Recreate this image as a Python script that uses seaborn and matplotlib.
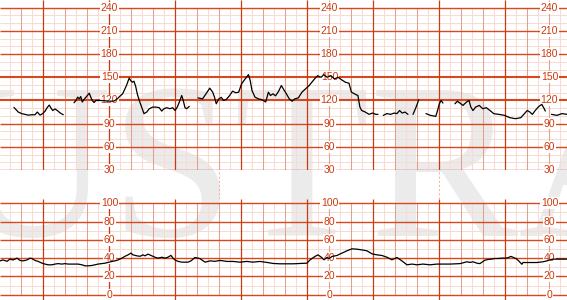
import numpy as np
import pandas as pd
import matplotlib
matplotlib.use("Agg")
import matplotlib.pyplot as plt
import seaborn as sns

# ---------------- data (time in s, light grid cell = 10 s) ----------------
fhr_seg1_t = [13.2, 17.1, 20.2, 23.2, 26.2, 29.3, 32.3, 34.4, 36.9, 39.3, 41.4, 43.5, 45.3, 46.9, 48.4, 50.5, 52.6, 55.0, 58.0]
fhr_seg1_v = [111, 105, 103, 102, 101, 101.5, 101.5, 105, 101, 103, 106, 111, 114, 110, 107, 109, 107, 104, 101.5]

fhr_seg2_t = [67.8, 69.6, 71.1, 72.6, 73.9, 75.3, 76.9, 78.7, 80.2, 81.7, 83.0, 84.4, 86.0, 87.8, 91.4, 96.0, 100.5,
              103.5, 105.0, 107.1, 109.6, 112.0, 114.1, 115.7, 117.1, 118.0, 119.3, 120.8, 122.3, 123.9, 125.3, 127.1,
              129.3, 131.4, 133.9, 136.2, 139.3, 142.3, 145.3, 147.5, 149.6, 152.0, 155.0, 157.5, 159.6, 161.7, 164.1,
              165.7, 167.1, 168.7, 170.2, 172.6]
fhr_seg2_v = [117, 120, 124.3, 122.1, 125.1, 117.9, 121.3, 124.3, 126.9, 129.4, 124.3, 120, 117.4, 120, 120, 119.6, 119.1,
              119.1, 120, 122.1, 125.6, 128.6, 135, 140.1, 145.7, 149, 145.7, 143.6, 144.9, 138, 128.6, 120,
              111.4, 102.9, 105, 109.3, 111.4, 111.4, 110.6, 106.3, 109.3, 110.6, 109.3, 110.6, 107.1, 111.4, 120,
              126.4, 120, 110.6, 109.3, 112.3]

fhr_seg3_t = [180.5, 184.6, 187.8, 191.2, 193.9, 195.5, 197.1, 199.4, 201.7, 203.7, 206.0, 209.3, 211.9, 214.9, 217.5,
              220.1, 223.4, 226.4, 228.0, 229.6, 232.3, 235.6, 238.7, 242.1, 244.5, 246.4, 248.7, 251.0, 253.7, 256.3,
              258.6, 260.9, 263.5, 266.1, 268.5, 271.8, 275.0, 278.3, 281.6, 284.0, 286.5, 289.1, 292.5, 294.8, 298.0,
              301.4, 304.6, 307.9, 311.2, 314.5, 317.8, 320.0, 322.7, 325.9, 327.7, 329.3, 332.6, 336.0, 339.1, 342.3,
              344.1]
fhr_seg3_v = [123.4, 122, 128.6, 135.9, 130.7, 124.3, 115.7, 122, 124, 120, 121, 126.4, 132, 130, 130.7,
              141.4, 147.9, 153.4, 145.7, 132.9, 124.3, 122, 121, 118, 130.7, 126.4, 128.6, 126, 131.6, 139.3,
              133.7, 128.6, 122, 119, 122, 123.4, 130.7, 135, 139.3, 143.6, 147.9, 152, 150, 153.4, 150,
              152, 147.9, 150, 146.6, 143.6, 142.3, 130.7, 128.6, 126.4, 111.4, 107, 105, 102, 103.7, 102,
              102]

fhr_seg4_t = [349.0, 352.3, 355.6, 358.9, 361.4, 363.8, 366.1, 368.7, 371.4]
fhr_seg4_v = [100.7, 103, 102, 103.7, 103, 107, 103.7, 105, 102]

fhr_seg5_t = [376.0, 378.7, 381.2]
fhr_seg5_v = [102, 111, 121]

fhr_seg6_t = [387.8, 391.8, 396.7, 398.3, 399.9, 401.6, 403.2]
fhr_seg6_v = [103, 100.7, 99.4, 107, 115.7, 120, 116.6]

fhr_seg7_t = [414.1, 416.4, 418.7, 421.4, 424.6, 426.9, 428.6, 430.5, 432.9, 436.2, 439.4, 442.7, 446.0, 449.4,
              454.1, 459.2, 464.1, 469.1, 474.0, 477.3, 479.9, 482.2, 484.5, 487.1, 490.4, 493.1, 495.3, 496.3]
fhr_seg7_v = [115.7, 119, 116.6, 113.6, 117.9, 120, 111.4, 107, 111.4, 113.6, 109.3, 110.6, 107, 102.9,
              102, 100.7, 97.7, 96.4, 97.7, 103, 107, 105, 102, 107, 112.3, 114.9, 109.3, 106.3]

fhr_seg8_t = [501.9, 506.9, 511.4, 516.0]
fhr_seg8_v = [102, 100.7, 103, 102]

uc_t = [0.5, 3.2, 6.9, 9.6, 12.3, 16.0, 18.7, 21.4, 25.0, 27.8, 29.6, 32.3, 35.0, 38.7, 41.4, 44.1, 47.8, 50.5, 53.2,
        56.9, 59.6, 62.3, 66.0, 68.7, 71.4, 75.0, 77.8, 80.5, 84.1, 86.9, 89.6, 93.2, 96.0, 98.7, 102.3, 105.0, 107.8,
        111.4, 114.1, 116.9, 119.6, 121.4, 125.0, 127.8, 130.5, 132.3, 135.0, 138.7, 141.4, 144.1, 147.8, 150.5, 153.2,
        155.9, 157.8, 159.6, 162.3, 165.9, 168.7, 171.4, 174.1, 177.8, 182.3, 186.9, 191.4, 195.9, 200.5, 206.8, 212.3,
        218.7, 225.0, 230.5, 236.8, 243.2, 248.7, 255.0, 261.4, 266.8, 273.2, 279.6, 282.3, 286.8, 289.6, 293.2, 295.0,
        297.8, 299.6, 302.3, 306.8, 311.4, 315.9, 320.5, 325.0, 329.6, 334.1, 338.7, 343.2, 347.7, 352.3, 356.8, 361.4,
        365.9, 370.5, 375.0, 379.6, 385.0, 391.4, 397.7, 403.2, 409.6, 418.7, 425.0, 427.8, 430.5, 434.1, 436.8, 439.6,
        441.4, 444.1, 447.8, 450.5, 453.2, 456.8, 459.6, 462.3, 465.0, 466.8, 469.6, 471.4, 475.0, 475.9, 478.6, 482.3,
        488.6, 494.1, 497.7, 500.5, 503.2, 509.6, 515.9]
uc_v = [37, 38, 36.5, 39, 38, 40, 37.5, 37, 38, 40, 39.5, 37.5, 36.5, 34.5, 33.5, 32.7, 32.7, 33.5, 34,
        33.5, 34, 33.5, 33.5, 33.5, 33.5, 32.7, 31.6, 31.6, 32, 32.7, 33.5, 34, 34.5, 35.3, 36.4, 37, 38,
        40, 42, 43.6, 45.5, 43.6, 42.5, 42, 43.6, 42.5, 44.4, 42.5, 41, 40, 41, 40, 41,
        43, 40, 38, 36.5, 35.6, 35.6, 35.6, 37, 40.7, 39.5, 35.6, 37, 36.5, 37.5, 36.4, 36.4,
        35.6, 36.4, 35.6, 36.4, 35.3, 34.2, 33.8, 33.8, 33.8, 34.2, 34.5, 38, 41.8, 43.6, 40.5, 38.2,
        40.7, 39.5, 41.8, 42.9, 45.5, 48, 50.2, 49.8, 49, 48, 44.7, 43.6, 42.9, 41, 38.2, 40.7,
        37, 32.7, 33.5, 32.7, 33.5, 32.7, 33.5, 33.5, 33.5, 34, 36, 35.3, 36, 34.5, 34, 36.3,
        37.8, 38.5, 39, 39.6, 39.6, 40, 40, 40.4, 41.9, 41, 39.6, 37.8, 33.3, 35.2, 35.2, 35.2,
        35.2, 36, 37, 38.1, 38.9, 38.9, 38.9]

fhr_labels = [30, 60, 90, 120, 150, 180, 210, 240]
uc_labels = [0, 20, 40, 60, 80, 100]
label_times = [100, 300, 500]

# ---------------- style ----------------
sns.set_style("white")
plt.rcParams['font.family'] = ['Liberation Sans', 'DejaVu Sans']

LIGHT = '#f8dbd2'
MEDIUM = '#e3a08c'
DARK = '#c93c12'
MAJOR_H = '#d9481c'
TEXT = '#cc3a0e'

fig = plt.figure(figsize=(5.67, 3.0), dpi=100)
fig.patch.set_facecolor('white')

# watermark
fig.text(-50 / 567, 64 / 300, "USTRA", fontsize=160, family='Liberation Serif',
         color='#ebebeb', ha='left', va='baseline', zorder=-5)

ax_top = fig.add_axes([0, 130 / 300, 1, 170 / 300])
ax_mid = fig.add_axes([0, 101 / 300, 1, 29 / 300])
ax_bot = fig.add_axes([0, 0, 1, 101 / 300])

XL = (0.5, 516.0)
for ax in (ax_top, ax_mid, ax_bot):
    ax.set_xlim(*XL)
    ax.set_axis_off()
    ax.patch.set_alpha(0)

ax_top.set_ylim(30, 250)
ax_mid.set_ylim(0, 1)
ax_bot.set_ylim(-5.8, 104.7)

all_t = np.arange(0, 520, 10)
light_t = [t for t in all_t if t % 20 != 0]
dark_t = [t for t in all_t if (t - 40) % 60 == 0]
medium_t = [t for t in all_t if t % 20 == 0 and t not in dark_t]


def grid(ax, lo, hi, top, bottom, major, minor, thick=()):
    ax.vlines(light_t, lo, hi, colors=LIGHT, lw=0.75, zorder=1)
    ax.hlines(minor, XL[0], XL[1], colors=LIGHT, lw=0.75, zorder=1)
    ax.vlines(medium_t, lo, hi, colors=MEDIUM, lw=0.75, zorder=2)
    ax.vlines(label_times, bottom, top, colors=MEDIUM, lw=0.75, zorder=2)
    for m in major:
        ax.hlines(m, XL[0], XL[1], colors=MAJOR_H, lw=1.5 if m in thick else 1.0, zorder=3)
    ax.vlines(dark_t, bottom, top, colors=DARK, lw=0.9, zorder=3)


grid(ax_top, 30, 240, 250, 30, fhr_labels, [v for v in range(40, 240, 10) if v % 30],
     thick=(120, 150))
grid(ax_bot, 0, 100, 104.7, -5.8, uc_labels, [v for v in range(10, 100, 20)])
ax_mid.vlines([200, 400], 0, 1, colors='#f0b4a2', lw=0.75, linestyles=(0, (2, 2)))

for t in label_times:
    for v in fhr_labels:
        ax_top.text(t, v, str(v), ha='center', va='center', fontsize=7.5, color=TEXT, zorder=5,
                    bbox=dict(facecolor='white', edgecolor='none', pad=0.6))
    for v in uc_labels:
        ax_bot.text(t, v, str(v), ha='center', va='center', fontsize=7.5, color=TEXT, zorder=5,
                    bbox=dict(facecolor='white', edgecolor='none', pad=0.6))

# traces
segs = [(fhr_seg1_t, fhr_seg1_v), (fhr_seg2_t, fhr_seg2_v), (fhr_seg3_t, fhr_seg3_v), (fhr_seg4_t, fhr_seg4_v),
        (fhr_seg5_t, fhr_seg5_v), (fhr_seg6_t, fhr_seg6_v), (fhr_seg7_t, fhr_seg7_v), (fhr_seg8_t, fhr_seg8_v)]
fhr_df = pd.concat([pd.DataFrame({'t': t, 'bpm': v, 'seg': i}) for i, (t, v) in enumerate(segs)],
                   ignore_index=True)
sns.lineplot(data=fhr_df, x='t', y='bpm', units='seg', estimator=None, color='black', lw=0.9,
             ax=ax_top, zorder=6, legend=False)

uc_df = pd.DataFrame({'t': uc_t, 'uc': uc_v})
sns.lineplot(data=uc_df, x='t', y='uc', estimator=None, color='black', lw=0.9, ax=ax_bot, zorder=6,
             legend=False)

for ax in (ax_top, ax_mid, ax_bot):
    ax.set_xlim(*XL)
    ax.set_axis_off()
ax_top.set_ylim(30, 250)
ax_bot.set_ylim(-5.8, 104.7)

fig.savefig("out.png", dpi=100, facecolor='white')
